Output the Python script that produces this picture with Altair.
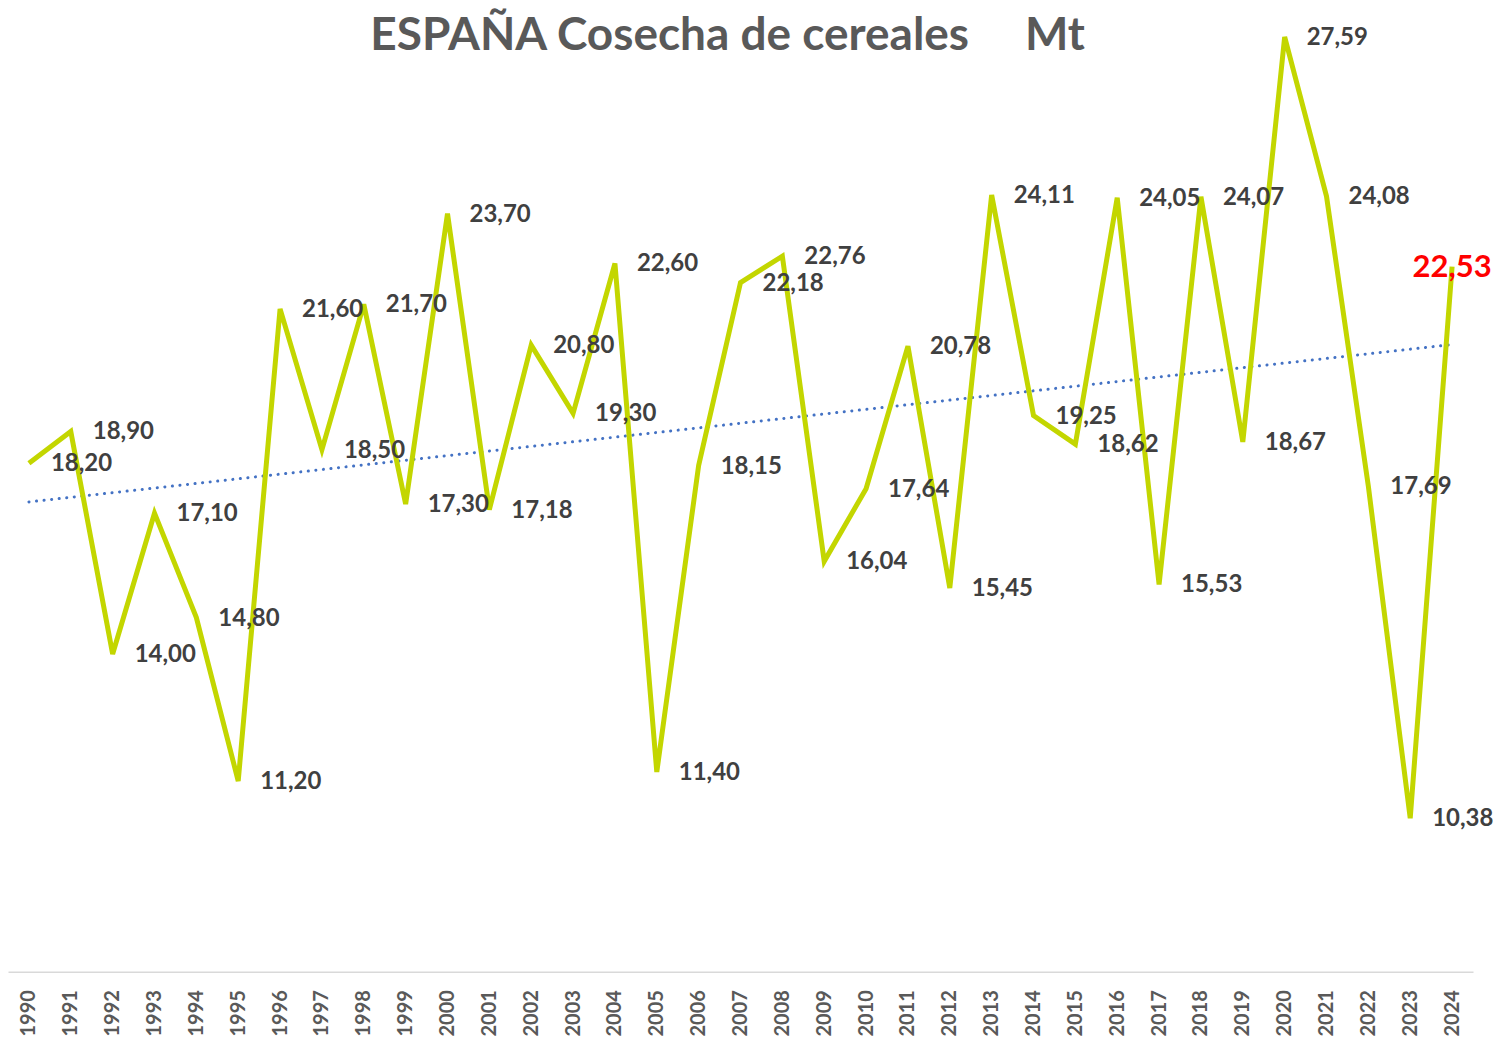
import altair as alt
import pandas as pd

TITLE = "ESPAÑA Cosecha de cereales\u00a0\u00a0\u00a0\u00a0\u00a0Mt"
years = list(range(1990, 2025))
values = [18.20, 18.90, 14.00, 17.10, 14.80, 11.20, 21.60, 18.50, 21.70, 17.30,
          23.70, 17.18, 20.80, 19.30, 22.60, 11.40, 18.15, 22.18, 22.76, 16.04,
          17.64, 20.78, 15.45, 24.11, 19.25, 18.62, 24.05, 15.53, 24.07, 18.67,
          27.59, 24.08, 17.69, 10.38, 22.53]
labels = [f"{v:.2f}".replace(".", ",") for v in values]

df = pd.DataFrame({"year": years, "value": values, "label": labels})
tdf = pd.DataFrame({"t": [TITLE]})

FONT = "Lato"

x = alt.X("year:Q",
          scale=alt.Scale(domain=[1989.5, 2024.5], nice=False, zero=False),
          axis=alt.Axis(values=years, format="d", labelAngle=270, title=None,
                        ticks=False, grid=False, domainColor="#d9d9d9", domainWidth=1.5,
                        labelColor="#595959", labelFont=FONT, labelFontSize=20,
                        labelFontWeight="bold", labelPadding=18, labelFlush=False,
                        labelOverlap=False))
y = alt.Y("value:Q", scale=alt.Scale(domain=[7, 28], nice=False, zero=False), axis=None)

base = alt.Chart(df)

line = base.mark_line(color="#C3D600", strokeWidth=5, strokeJoin="miter").encode(x=x, y=y)

trend = base.transform_regression("year", "value", extent=[1990, 2024]).mark_line(
    color="#4472C4", strokeWidth=3, strokeDash=[0.1, 7.5], strokeCap="round"
).encode(x=x, y=y)

txt = base.transform_filter(alt.datum.year < 2024).mark_text(
    align="left", baseline="middle", dx=22, dy=1, font=FONT, fontSize=24,
    fontWeight="bold", color="#404040"
).encode(x=x, y=y, text="label:N")

last = base.transform_filter(alt.datum.year == 2024).mark_text(
    align="center", baseline="middle", dy=1, font=FONT, fontSize=31,
    fontWeight="bold", color="#FF0000"
).encode(x=x, y=y, text="label:N")

title = alt.Chart(tdf).mark_text(
    align="center", baseline="alphabetic", font=FONT, fontSize=46,
    fontWeight="bold", color="#595959"
).encode(x=alt.value(720), y=alt.value(32), text="t:N")

chart = alt.layer(trend, line, txt, last, title).properties(
    width=1466, height=954,
    autosize=alt.AutoSizeParams(type="none"),
    padding={"left": 0, "top": 10, "right": 20, "bottom": 80},
).configure(background="white").configure_view(stroke=None)

chart.save("out.html", embed_options={"renderer": "svg", "actions": False})
